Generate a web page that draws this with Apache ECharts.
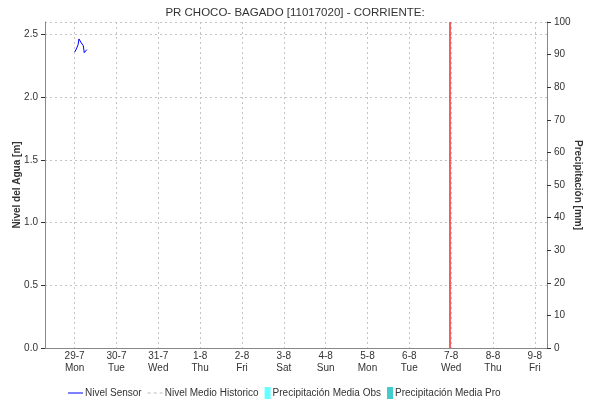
<!DOCTYPE html>
<html>
<head>
<meta charset="utf-8">
<script src="https://cdn.jsdelivr.net/npm/echarts@6/dist/echarts.min.js"></script>
<style>
html,body{margin:0;padding:0;background:#fff;}
#c{width:590px;height:404px;}
</style>
</head>
<body>
<div id="c"></div>
<script>
const chartTitle = 'PR CHOCO- BAGADO [11017020] - CORRIENTE:';
const sensorTimes = ['2024-07-29 00:00','2024-07-29 00:30','2024-07-29 01:00','2024-07-29 01:30','2024-07-29 02:00','2024-07-29 02:30','2024-07-29 03:00','2024-07-29 03:30','2024-07-29 04:00','2024-07-29 04:30','2024-07-29 05:00','2024-07-29 05:30','2024-07-29 06:00','2024-07-29 06:30','2024-07-29 07:00'];
const sensorLevels = [2.36,2.37,2.385,2.395,2.42,2.465,2.455,2.44,2.435,2.455,2.41,2.355,2.345,2.34,2.38];
const historicLevels = [];
const precipObs = [];
const precipPro = [];
const nowMarker = '2024-08-06 23:00';
const xStart = '2024-07-28 07:00';
const xEnd = '2024-08-09 07:00';

function toMs(s){
  const [d,t] = s.split(' ');
  const [Y,M,D] = d.split('-').map(Number);
  const [h,m] = t.split(':').map(Number);
  return new Date(Y, M-1, D, h, m).getTime();
}
const dayNames = ['Sun','Mon','Tue','Wed','Thu','Fri','Sat'];

const chart = echarts.init(document.getElementById('c'));
const font = 'Liberation Sans, Arial, sans-serif';
const lineIcon = 'path://M0,0 H15 V1 H0 Z';
const dashIcon = 'path://M0,0 H3 V1 H0 Z M6,0 H9 V1 H6 Z M12,0 H15 V1 H12 Z';
const boxIcon = 'path://M0,0 H6 V12 H0 Z M15,12 L15.01,12 L15,12 Z';
const gridLine = {color: '#c4c4c4', type: [2, 3], width: 1};
const boxText = {fontSize: 10, color: '#333', fontFamily: font, padding: [0,0,0,-12]};
chart.setOption({
  animation: false,
  backgroundColor: '#fff',
  title: {
    text: chartTitle, left: 'center', top: 2,
    textStyle: {fontSize: 11.5, fontWeight: 'normal', color: '#333', fontFamily: font}
  },
  legend: {
    bottom: 0, left: 63, itemGap: 6, itemWidth: 15, itemHeight: 12,
    textStyle: {fontSize: 10, color: '#333', fontFamily: font, padding: [0,0,0,-3]},
    data: [
      {name: 'Nivel Sensor', icon: lineIcon},
      {name: 'Nivel Medio Historico', icon: dashIcon},
      {name: 'Precipitación Media Obs', icon: boxIcon, textStyle: boxText},
      {name: 'Precipitación Media Pro', icon: boxIcon, textStyle: boxText}
    ]
  },
  grid: {left: 45, right: 43, top: 22, bottom: 56, outerBoundsMode: 'none', containLabel: false},
  xAxis: [{
    type: 'time',
    min: toMs(xStart), max: toMs(xEnd),
    minInterval: 86400000, maxInterval: 86400000,
    axisLine: {lineStyle: {color: '#333', type: 'dotted', width: 1}},
    axisTick: {show: false},
    axisLabel: {
      showMinLabel: false, showMaxLabel: false,
      fontSize: 10, color: '#333', fontFamily: font, lineHeight: 12, margin: 2,
      formatter: function(v){
        const d = new Date(v);
        return d.getDate() + '-' + (d.getMonth()+1) + '\n' + dayNames[d.getDay()];
      }
    },
    splitLine: {show: true, lineStyle: gridLine}
  }, {
    type: 'time', position: 'top',
    min: toMs(xStart), max: toMs(xEnd),
    axisLine: {lineStyle: {color: '#888', width: 1}},
    axisTick: {show: false}, axisLabel: {show: false}, splitLine: {show: false}
  }],
  yAxis: [{
    type: 'value', min: 0, max: 2.6, interval: 0.5,
    name: 'Nivel del Agua [m]', nameLocation: 'middle', nameGap: 23, nameMoveOverlap: false,
    nameTextStyle: {fontSize: 10, fontWeight: 'bold', color: '#333', fontFamily: font},
    axisLine: {show: true, lineStyle: {color: '#888'}},
    axisTick: {show: true, length: 4, lineStyle: {color: '#333'}},
    axisLabel: {showMaxLabel: false, fontSize: 10, color: '#333', fontFamily: font, margin: 7,
      formatter: v => v.toFixed(1)},
    splitLine: {show: true, lineStyle: gridLine}
  }, {
    type: 'value', min: 0, max: 100, interval: 10, position: 'right',
    name: 'Precipitación [mm]', nameLocation: 'middle', nameGap: 26, nameRotate: -90, nameMoveOverlap: false,
    nameTextStyle: {fontSize: 10, fontWeight: 'bold', color: '#333', fontFamily: font},
    axisLine: {show: true, lineStyle: {color: '#888'}},
    axisTick: {show: true, length: 4, lineStyle: {color: '#333'}},
    axisLabel: {fontSize: 10, color: '#333', fontFamily: font, margin: 7},
    splitLine: {show: false}
  }],
  series: [{
    name: 'Nivel Sensor', type: 'line', yAxisIndex: 0, xAxisIndex: 0,
    symbol: 'none', showSymbol: false,
    lineStyle: {color: '#0000ff', width: 1}, itemStyle: {color: '#0000ff'},
    data: sensorTimes.map((t,i) => [toMs(t), sensorLevels[i]]),
    markLine: {
      silent: true, symbol: ['none','none'], label: {show: false},
      lineStyle: {color: '#ee2a2a', type: 'solid', width: 1.5},
      data: [{xAxis: toMs(nowMarker)}]
    }
  }, {
    name: 'Nivel Medio Historico', type: 'line', yAxisIndex: 0, xAxisIndex: 0,
    symbol: 'none', showSymbol: false,
    lineStyle: {color: '#bbbbbb', width: 1, type: 'dashed'}, itemStyle: {color: '#bbbbbb'},
    data: historicLevels
  }, {
    name: 'Precipitación Media Obs', type: 'line', yAxisIndex: 1, xAxisIndex: 0,
    symbol: 'none', lineStyle: {width: 0}, areaStyle: {color: '#66ffff'},
    itemStyle: {color: '#66ffff'}, data: precipObs
  }, {
    name: 'Precipitación Media Pro', type: 'line', yAxisIndex: 1, xAxisIndex: 0,
    symbol: 'none', lineStyle: {width: 0}, areaStyle: {color: '#44cccc'},
    itemStyle: {color: '#44cccc'}, data: precipPro
  }]
});
</script>
</body>
</html>
